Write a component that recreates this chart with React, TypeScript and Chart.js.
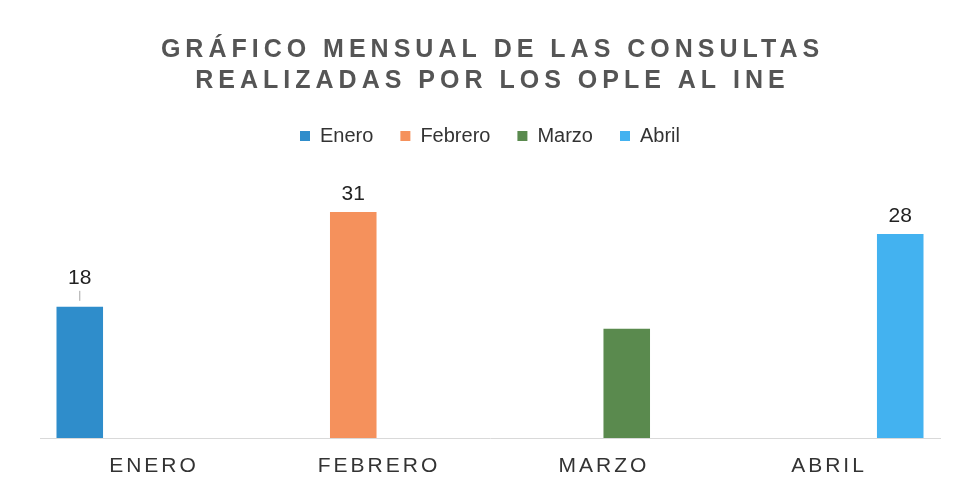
import React, { useEffect, useRef } from 'react';
import { Chart, registerables } from 'chart.js';

Chart.register(...registerables);

const categories = ['ENERO', 'FEBRERO', 'MARZO', 'ABRIL'];
const seriesNames = ['Enero', 'Febrero', 'Marzo', 'Abril'];
const eneroValues = [18, null, null, null];
const febreroValues = [null, 31, null, null];
const marzoValues = [null, null, 15, null];
const abrilValues = [null, null, null, 28];
const valueLabels = ['18', '31', '', '28'];
const titleLines = ['GRÁFICO MENSUAL DE LAS CONSULTAS', 'REALIZADAS POR LOS OPLE AL INE'];

const colors = ['#2F8DCB', '#F5915C', '#5A8A4E', '#43B2F0'];
const FONT = '"Liberation Sans", Arial, sans-serif';

const spacedText = (ctx: CanvasRenderingContext2D, text: string, cx: number, cy: number, spacing: number) => {
  (ctx as any).letterSpacing = spacing + 'px';
  ctx.textAlign = 'left';
  ctx.textBaseline = 'middle';
  const w = ctx.measureText(text).width;
  ctx.fillText(text, cx - (w - spacing) / 2, cy);
  (ctx as any).letterSpacing = '0px';
};

const decorPlugin = {
  id: 'decor',
  afterDraw(chart: any) {
    const ctx: CanvasRenderingContext2D = chart.ctx;
    ctx.save();
    // title
    ctx.font = `bold 25px ${FONT}`;
    ctx.fillStyle = '#555555';
    spacedText(ctx, titleLines[0], 490, 50, 5);
    spacedText(ctx, titleLines[1], 490, 81, 5);
    // category labels
    const xs = chart.scales.x;
    ctx.font = `21px ${FONT}`;
    ctx.fillStyle = '#333333';
    categories.forEach((c, i) => {
      spacedText(ctx, c, xs.getPixelForValue(i), 466, 3);
    });
    // value labels
    ctx.font = `21px ${FONT}`;
    ctx.fillStyle = '#222222';
    ctx.textAlign = 'center';
    ctx.textBaseline = 'middle';
    chart.data.datasets.forEach((ds: any, d: number) => {
      const label = valueLabels[d];
      if (!label) return;
      const el = chart.getDatasetMeta(d).data[d];
      if (!el) return;
      if (d === 0) {
        ctx.fillText(label, el.x, el.y - 29);
        ctx.strokeStyle = '#a6a6a6';
        ctx.lineWidth = 1;
        ctx.beginPath();
        ctx.moveTo(el.x, el.y - 16);
        ctx.lineTo(el.x, el.y - 6);
        ctx.stroke();
      } else {
        ctx.fillText(label, el.x, el.y - 18);
      }
    });
    ctx.restore();
  },
};

export default function App() {
  const ref = useRef<HTMLCanvasElement | null>(null);
  useEffect(() => {
    if (!ref.current) return;
    const seriesValues = [eneroValues, febreroValues, marzoValues, abrilValues];
    const chart = new Chart(ref.current, {
      type: 'bar',
      data: {
        labels: categories,
        datasets: seriesNames.map((name, i) => ({
          label: name,
          data: seriesValues[i],
          backgroundColor: colors[i],
          borderWidth: 0,
          categoryPercentage: 0.862,
          barPercentage: 0.96,
        })),
      },
      options: {
        responsive: false,
        animation: false,
        layout: { padding: { top: 99, left: 40, right: 19, bottom: 45 } },
        plugins: {
          title: { display: false },
          tooltip: { enabled: false },
          legend: {
            display: true,
            position: 'top',
            labels: {
              boxWidth: 10,
              boxHeight: 10,
              padding: 27,
              color: '#333333',
              font: { family: FONT, size: 20 },
            },
          },
        },
        scales: {
          x: {
            grid: { display: false },
            border: { display: true, color: '#d9d9d9', width: 1 },
            ticks: { display: false },
          },
          y: {
            display: false,
            min: 0,
            max: 38.7,
          },
        },
      },
      plugins: [decorPlugin],
    });
    return () => chart.destroy();
  }, []);
  return (
    <div style={{ position: 'fixed', left: 0, top: 0, width: 959, height: 491, background: '#ffffff' }}>
      <canvas ref={ref} width={959} height={491} />
    </div>
  );
}
